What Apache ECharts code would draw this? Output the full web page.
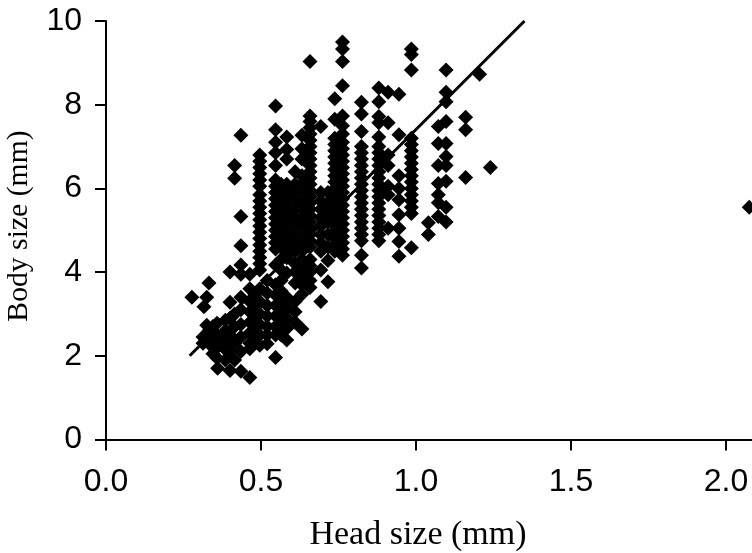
<!DOCTYPE html>
<html>
<head>
<meta charset="utf-8">
<script src="https://cdn.jsdelivr.net/npm/echarts@6/dist/echarts.min.js"></script>
<style>
  html, body { margin: 0; padding: 0; background: #fff; overflow: hidden; }
  #chart { width: 752px; height: 553px; }
</style>
</head>
<body>
<div id="chart"></div>
<script>
// head size -> body sizes
const headSizes = [0.277, 0.313, 0.316, 0.325, 0.332, 0.345, 0.358, 0.36, 0.385, 0.4, 0.415, 0.435, 0.464, 0.48, 0.496,
  0.52, 0.547, 0.565, 0.583, 0.61, 0.632, 0.658, 0.693, 0.716, 0.738, 0.763, 0.824, 0.88, 0.91, 0.945, 0.985,
  1.04, 1.072, 1.097, 1.16, 1.205, 1.24, 2.075];
const bodySizes = [
  [3.4],
  [2.45, 2.3],
  [3.17],
  [3.4, 2.73, 2.5],
  [3.74, 2.6, 2.35],
  [2.2, 2.05, 2.7],
  [2.78, 2.5, 2.2, 1.95],
  [1.7, 2.4],
  [2.85, 2.6, 2.35, 2.15, 1.9],
  [4.0, 3.28, 2.9, 2.5, 2.1, 1.65],
  [6.55, 6.24, 3.0, 2.7, 2.3, 1.9],
  [7.27, 5.33, 4.63, 4.17, 3.95, 3.4, 3.1, 2.75, 2.45, 2.1, 1.63],
  [3.95, 3.6, 3.3, 3.05, 2.8, 2.55, 2.3, 2.17, 1.48],
  [3.45, 3.15, 2.9, 2.65, 2.4],
  [6.8, 6.65, 6.5, 6.35, 6.2, 6.05, 5.85, 5.7, 5.55, 5.4, 5.25, 5.1, 4.95, 4.8, 4.65, 4.5, 4.35, 4.2, 4.05, 3.6, 3.3, 3.0, 2.75, 2.5, 2.25],
  [3.8, 3.5, 3.2, 2.95, 2.7, 2.5, 2.29],
  [7.97, 7.4, 7.1, 6.85, 6.55, 6.2, 6.05, 5.9, 5.75, 5.6, 5.45, 5.3, 5.15, 5.0, 4.85, 4.7, 4.55, 4.17, 3.7, 3.45, 3.2, 2.95, 2.7, 2.5, 1.96],
  [6.1, 5.8, 5.5, 5.2, 4.9, 4.6, 4.3, 4.05, 3.8, 3.55, 3.25, 3.0, 2.75, 2.5],
  [7.23, 6.93, 6.7, 6.1, 5.95, 5.8, 5.65, 5.5, 5.35, 5.2, 5.05, 4.9, 4.75, 4.6, 4.45, 4.34, 3.98, 3.4, 3.15, 2.9, 2.65, 2.38],
  [6.4, 6.1, 5.9, 5.7, 5.5, 5.3, 5.1, 4.9, 4.7, 4.5, 4.2, 4.0, 3.74, 3.3, 3.05, 2.8],
  [7.27, 6.95, 6.7, 6.3, 6.1, 5.9, 5.7, 5.5, 5.3, 5.1, 4.9, 4.7, 4.5, 4.3, 4.1, 3.9, 3.7, 3.47, 2.64],
  [9.03, 7.73, 7.6, 7.45, 7.3, 7.15, 7.0, 6.85, 6.7, 6.55, 6.4, 6.25, 6.1, 5.95, 5.8, 5.65, 5.5, 5.35, 5.2, 5.05, 4.9, 4.75, 4.6, 4.3, 4.15, 4.0, 3.8, 3.63],
  [7.48, 5.9, 5.7, 5.5, 5.3, 5.1, 4.9, 4.7, 4.5, 4.05, 3.3],
  [5.9, 5.65, 5.45, 5.2, 4.9, 4.6, 4.28, 3.77],
  [8.14, 7.65, 7.2, 7.05, 6.9, 6.75, 6.6, 6.45, 6.3, 6.15, 6.0, 5.85, 5.7, 5.55, 5.4, 5.25, 5.1, 4.95, 4.8, 4.65, 4.5],
  [9.5, 9.33, 9.03, 8.45, 7.73, 7.5, 7.3, 7.1, 6.95, 6.8, 6.65, 6.5, 6.35, 6.2, 6.05, 5.9, 5.75, 5.6, 5.45, 5.3, 5.15, 5.0, 4.85, 4.7, 4.55, 4.4],
  [8.06, 7.78, 7.36, 7.0, 6.85, 6.7, 6.55, 6.4, 6.25, 6.1, 5.95, 5.8, 5.65, 5.5, 5.35, 5.2, 5.05, 4.9, 4.75, 4.4, 4.1],
  [8.4, 8.07, 7.72, 7.57, 7.23, 7.0, 6.85, 6.7, 6.55, 6.4, 6.25, 6.1, 5.95, 5.8, 5.65, 5.5, 5.35, 5.2, 5.05, 4.9, 4.75],
  [8.3, 7.57, 6.8, 6.55, 6.05, 5.85, 5.05],
  [8.25, 7.28, 6.3, 6.0, 5.73, 5.37, 5.05, 4.73, 4.38],
  [9.33, 9.2, 8.83, 7.2, 7.05, 6.9, 6.75, 6.6, 6.45, 6.3, 6.15, 6.0, 5.85, 5.7, 5.55, 5.4, 4.58],
  [5.18, 4.9],
  [7.48, 7.07, 6.55, 6.12, 5.85, 5.66, 5.33],
  [8.83, 8.3, 8.07, 7.6, 7.07, 6.76, 6.55, 6.17, 5.55, 5.2],
  [7.7, 7.4, 6.26],
  [8.73],
  [6.5],
  [5.55]
];
// trend line ends
const trendHead = [0.27, 1.35];
const trendBody = [2.0, 10];
const xTicks = ['0.0', '0.5', '1.0', '1.5', '2.0', '2.5'];

const points = [];
headSizes.forEach((h, i) => {
  bodySizes[i].forEach(b => points.push([h, b]));
});

const chart = echarts.init(document.getElementById('chart'));
chart.setOption({
  animation: false,
  backgroundColor: '#fff',
  // axis runs on past the right edge of the picture
  grid: { left: 106, top: 21, width: 775, height: 418.5, outerBoundsMode: 'none' },
  xAxis: {
    type: 'value',
    min: 0,
    max: 2.5,
    interval: 0.5,
    splitLine: { show: false },
    axisLine: { onZero: false, lineStyle: { color: '#000', width: 2 } },
    axisTick: { length: 11, lineStyle: { color: '#000', width: 2 } },
    axisLabel: {
      color: '#000', fontFamily: 'Liberation Sans', fontSize: 32, margin: 27,
      formatter: (v) => xTicks[Math.round(v / 0.5)]
    }
  },
  yAxis: {
    type: 'value',
    min: 0,
    max: 10,
    interval: 2,
    splitLine: { show: false },
    axisLine: { onZero: false, lineStyle: { color: '#000', width: 2 } },
    axisTick: { length: 11, lineStyle: { color: '#000', width: 2 } },
    axisLabel: { color: '#000', fontFamily: 'Liberation Sans', fontSize: 32, margin: 24, padding: [6, 0, 0, 0] }
  },
  graphic: [
    {
      type: 'text', x: 418, y: 535,
      style: { text: 'Head size (mm)', fill: '#000', font: '34px "Liberation Serif"', textAlign: 'center', textVerticalAlign: 'middle' }
    },
    {
      type: 'text', x: 19, y: 226, rotation: Math.PI / 2,
      style: { text: 'Body size (mm)', fill: '#000', font: '29.7px "Liberation Serif"', textAlign: 'center', textVerticalAlign: 'middle' }
    }
  ],
  series: [
    {
      type: 'scatter',
      symbol: 'diamond',
      symbolSize: 15,
      clip: false,
      itemStyle: { color: '#000', opacity: 1 },
      data: points
    },
    {
      type: 'line',
      symbol: 'none',
      lineStyle: { color: '#000', width: 3 },
      data: trendHead.map((h, i) => [h, trendBody[i]])
    }
  ]
});
</script>
</body>
</html>
